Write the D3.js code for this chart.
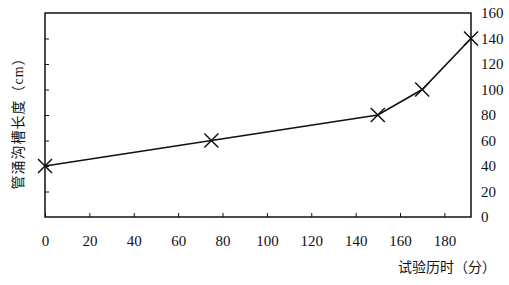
<!DOCTYPE html>
<html>
<head>
<meta charset="utf-8">
<script src="https://cdn.jsdelivr.net/npm/d3@7"></script>
<style>
  body { margin: 0; background: #fff; }
  text { font-family: "Liberation Serif", "Noto Sans CJK SC", serif; fill: #111; }
</style>
</head>
<body>
<div id="chart"></div>
<script>
// data
const times = [0, 75, 150, 170, 192];
const lengths = [40, 60, 80, 100, 140];
const xTicks = [0, 20, 40, 60, 80, 100, 120, 140, 160, 180];
const yTicks = [0, 20, 40, 60, 80, 100, 120, 140, 160];
const xTitle = "试验历时（分）";
const yTitle = "管涌沟槽长度（cm）";

const width = 509, height = 285;
const margin = { left: 45, right: 38, top: 13, bottom: 68 };

const svg = d3.select("#chart")
  .append("svg")
  .attr("width", width)
  .attr("height", height);

const x = d3.scaleLinear().domain([0, 192]).range([margin.left, width - margin.right]);
const y = d3.scaleLinear().domain([0, 160]).range([height - margin.bottom, margin.top]);

// frame
svg.append("rect")
  .attr("x", x(0))
  .attr("y", y(160))
  .attr("width", x(192) - x(0))
  .attr("height", y(0) - y(160))
  .attr("fill", "none")
  .attr("stroke", "#111")
  .attr("stroke-width", 1.5);

// bottom axis, ticks pointing in
const xAxis = svg.append("g")
  .attr("transform", "translate(0," + y(0) + ")")
  .call(d3.axisBottom(x).tickValues(xTicks).tickSize(-4).tickPadding(18));
xAxis.select(".domain").remove();
xAxis.selectAll("line").attr("stroke", "#111");
xAxis.selectAll("text").attr("font-size", 15);

// left axis: inward ticks, no labels
const yLeft = svg.append("g")
  .attr("transform", "translate(" + x(0) + ",0)")
  .call(d3.axisLeft(y).tickValues(yTicks.slice(1, -1)).tickSize(-4).tickFormat(""));
yLeft.select(".domain").remove();
yLeft.selectAll("line").attr("stroke", "#111");

// right axis: labels only
const yRight = svg.append("g")
  .attr("transform", "translate(" + x(192) + ",0)")
  .call(d3.axisRight(y).tickValues(yTicks).tickSize(0).tickPadding(10));
yRight.select(".domain").remove();
yRight.selectAll("text").attr("font-size", 15);

// line
const line = d3.line()
  .x((d, i) => x(times[i]))
  .y(d => y(d));

svg.append("path")
  .datum(lengths)
  .attr("d", line)
  .attr("fill", "none")
  .attr("stroke", "#111")
  .attr("stroke-width", 1.6);

// X markers
const s = 7;
svg.selectAll(".mark")
  .data(lengths)
  .enter()
  .append("path")
  .attr("class", "mark")
  .attr("transform", (d, i) => "translate(" + x(times[i]) + "," + y(d) + ")")
  .attr("d", "M" + -s + "," + -s + "L" + s + "," + s + "M" + -s + "," + s + "L" + s + "," + -s)
  .attr("stroke", "#111")
  .attr("stroke-width", 1.5);

// titles
svg.append("text")
  .attr("x", 496)
  .attr("y", 272)
  .attr("text-anchor", "end")
  .attr("font-size", 14)
  .text(xTitle);

svg.append("text")
  .attr("transform", "translate(23," + 120 + ") rotate(-90)")
  .attr("text-anchor", "middle")
  .attr("font-size", 14)
  .attr("letter-spacing", 1)
  .text(yTitle);
</script>
</body>
</html>
